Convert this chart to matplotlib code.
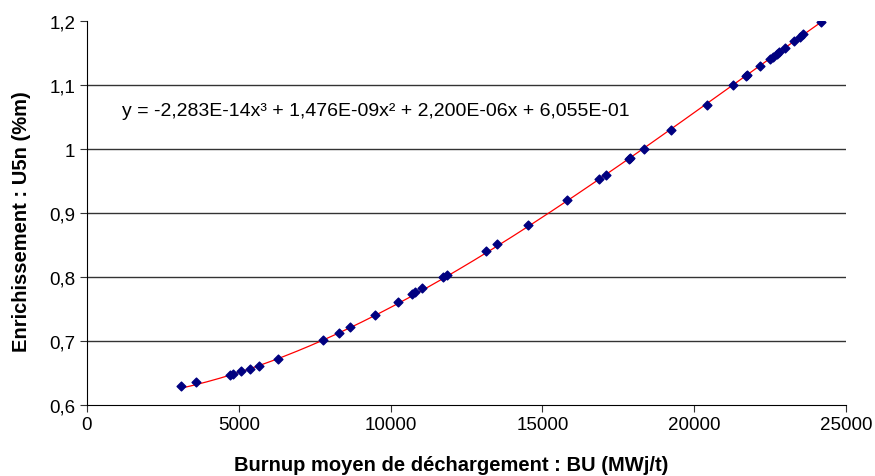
import numpy as np
import matplotlib.pyplot as plt

plt.rcParams['font.family'] = ['Liberation Sans', 'DejaVu Sans']

# burnup (MWj/t) and enrichment (%m)
burnup = [3100, 3600, 4720, 4800, 5070, 5360, 5680, 6300, 7780, 8290, 8650,
          9500, 10250, 10700, 10800, 11020, 11740, 11850, 13140, 13500, 14520,
          15800, 16880, 17090, 17860, 17900, 18330, 19230, 20410, 21270, 21700,
          21750, 22150, 22500, 22610, 22720, 22800, 22990, 23300, 23490, 23590,
          24180]
enrich = [0.630, 0.635, 0.646, 0.648, 0.652, 0.656, 0.661, 0.671, 0.701, 0.712,
          0.721, 0.741, 0.761, 0.773, 0.776, 0.782, 0.800, 0.803, 0.841, 0.851,
          0.881, 0.920, 0.954, 0.960, 0.985, 0.986, 1.000, 1.030, 1.069, 1.100,
          1.114, 1.116, 1.130, 1.141, 1.145, 1.149, 1.152, 1.158, 1.170, 1.176,
          1.180, 1.199]

# trend line coefficients shown on the chart (x^3, x^2, x, 1)
coefs = [-2.283e-14, 1.476e-09, 2.200e-06, 6.055e-01]
eq_text = "y = -2,283E-14x³ + 1,476E-09x² + 2,200E-06x + 6,055E-01"

yticks = [0.6, 0.7, 0.8, 0.9, 1.0, 1.1, 1.2]
ylabels = ["0,6", "0,7", "0,8", "0,9", "1", "1,1", "1,2"]
xticks = [0, 5000, 10000, 15000, 20000, 25000]

fig = plt.figure(figsize=(8.75, 4.77), dpi=100)
ax = fig.add_axes([0.0994, 0.1495, 0.8675, 0.8035])

for yv in yticks[1:-1]:
    ax.axhline(yv, color='#333333', lw=1, zorder=1)

xs = np.linspace(min(burnup), max(burnup), 200)
ax.plot(xs, np.polyval(coefs, xs), color='red', lw=0.9, zorder=2)
ax.scatter(burnup, enrich, marker='D', s=20, color='#000080', zorder=3)

ax.text(1150, 1.06, eq_text, fontsize=14, va='center')

ax.set_xlim(0, 25000)
ax.set_ylim(0.6, 1.2)
ax.set_xticks(xticks)
ax.set_xticklabels([str(v) for v in xticks])
ax.set_yticks(yticks)
ax.set_yticklabels(ylabels)
ax.tick_params(labelsize=13.5, length=5, color='#333333')
ax.spines['top'].set_visible(False)
ax.spines['right'].set_visible(False)

ax.set_xlabel("Burnup moyen de déchargement : BU (MWj/t)", fontsize=14.5,
              fontweight='bold')
ax.set_ylabel("Enrichissement : U5n (%m)", fontsize=14.5, fontweight='bold')
ax.xaxis.set_label_coords(0.48, -0.13)
ax.yaxis.set_label_coords(-0.074, 0.48)

fig.savefig("out.png", dpi=100)
